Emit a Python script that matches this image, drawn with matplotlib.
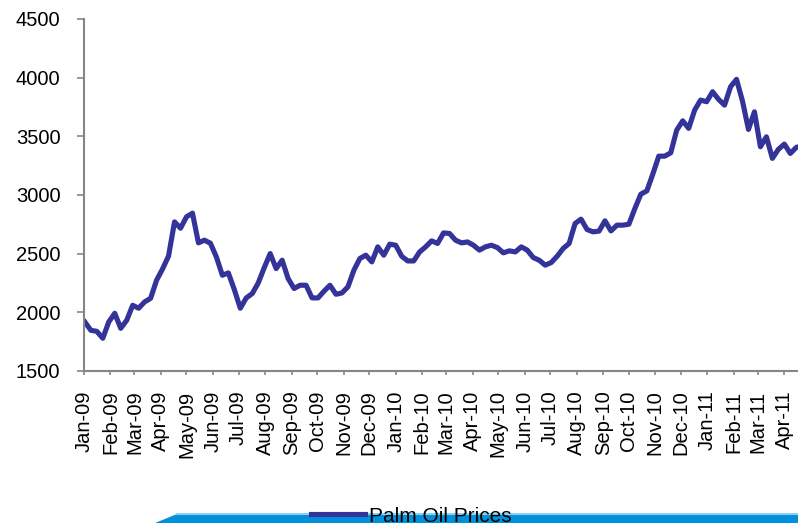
import numpy as np
import pandas as pd
import matplotlib
matplotlib.use("Agg")
import matplotlib.pyplot as plt
import matplotlib.dates as mdates
from matplotlib.patches import Polygon

plt.rcParams["font.family"] = ["Liberation Sans", "DejaVu Sans"]

# weekly palm oil prices, Jan 2009 - Apr 2011
start_date = "2009-01-02"
prices = [
    1918, 1847, 1838, 1779, 1918, 1992, 1864, 1932, 2060, 2035,
    2089, 2120, 2274, 2370, 2480, 2771, 2717, 2814, 2845, 2592,
    2615, 2589, 2472, 2316, 2336, 2194, 2035, 2123, 2160, 2250,
    2380, 2501, 2373, 2444, 2288, 2203, 2231, 2231, 2123, 2123,
    2180, 2231, 2154, 2165, 2217, 2359, 2459, 2487, 2430, 2558,
    2487, 2581, 2572, 2478, 2438, 2438, 2515, 2558, 2609, 2587,
    2677, 2672, 2615, 2592, 2600, 2572, 2530, 2558, 2572, 2552,
    2507, 2524, 2515, 2558, 2530, 2467, 2444, 2402, 2424, 2478,
    2544, 2587, 2757, 2794, 2706, 2686, 2692, 2780, 2694, 2743,
    2743, 2751, 2885, 3007, 3035, 3178, 3331, 3331, 3360, 3553,
    3632, 3568, 3724, 3809, 3795, 3880, 3815, 3766, 3922, 3986,
    3800, 3559, 3709, 3411, 3496, 3312, 3389, 3434, 3354, 3406,
    3420,
]
series_label = "Palm Oil Prices"
y_ticks = [1500, 2000, 2500, 3000, 3500, 4000, 4500]

dates = pd.date_range(start_date, periods=len(prices), freq="7D")

W, H = 798, 523
fig = plt.figure(figsize=(W / 100, H / 100), dpi=100)
ax = fig.add_axes([84 / W, 152 / H, 714 / W, 352 / H])

line, = ax.plot(dates, prices, color="#333399", lw=3.7, solid_joinstyle="round",
                label=series_label)

ax.set_ylim(1500, 4500)
ax.set_yticks(y_ticks)
ax.set_xlim(pd.Timestamp("2009-01-01"), pd.Timestamp("2009-01-01") + pd.Timedelta(days=836))
ax.xaxis.set_major_locator(mdates.MonthLocator())
ax.xaxis.set_major_formatter(mdates.DateFormatter("%b-%y"))

grey = "#868686"
for side in ["top", "right"]:
    ax.spines[side].set_visible(False)
for side in ["left", "bottom"]:
    ax.spines[side].set_color(grey)
    ax.spines[side].set_linewidth(1.5)

ax.tick_params(axis="y", direction="out", length=5, width=1.2, color=grey,
               labelsize=14.5, pad=12)
ax.tick_params(axis="x", direction="out", length=3, width=1.2, color=grey,
               labelsize=14.5, pad=11, labelrotation=90)

# blue strip along the bottom edge
px = lambda x, y: (x / W, y / H)
strip = Polygon([px(155, 0), px(177, 9), px(W, 9), px(W, 0)], closed=True,
                transform=fig.transFigure, facecolor="#0091da", edgecolor="none")
fig.patches.append(strip)
fig.lines.append(plt.Line2D([177 / W, 1], [9 / H, 9 / H], transform=fig.transFigure,
                            color="#8fd0f2", lw=1.5))

fig.legend(handles=[line], loc="center left", bbox_to_anchor=(311 / W, 7 / H),
           frameon=False, fontsize=15, handlelength=2.6, handletextpad=0.2,
           borderpad=0, borderaxespad=0)

fig.savefig("out.png", dpi=100)
